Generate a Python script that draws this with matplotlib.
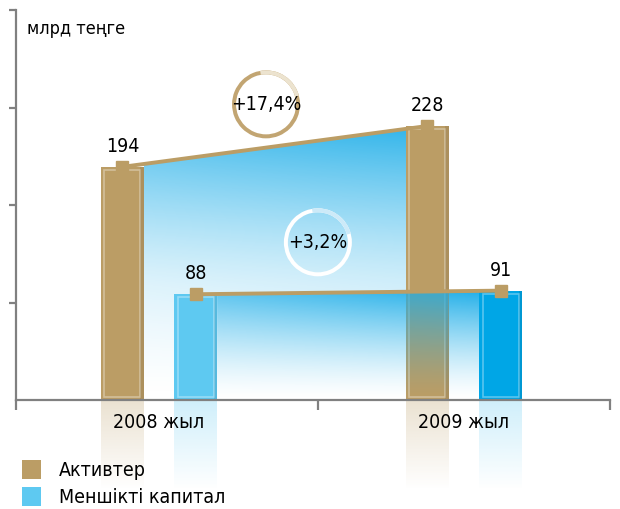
import numpy as np
import matplotlib
matplotlib.use("Agg")
import matplotlib.pyplot as plt
import matplotlib.patches as patches
from matplotlib.transforms import IdentityTransform

years = ["2008 жыл", "2009 жыл"]
assets = [194, 228]
equity = [88, 91]
growth = ["+17,4%", "+3,2%"]
series = ["Активтер", "Меншікті капитал"]
unit = "млрд теңге"

plt.rcParams["font.family"] = ["DejaVu Sans"]
plt.rcParams["font.stretch"] = "condensed"

tan = "#bb9d65"
sky = "#5ec9f1"
deep = "#00a6e6"
gray = "#808080"
blue = np.array([0.11, 0.68, 0.91])

fig = plt.figure(figsize=(6.2, 5.09), dpi=100)
ax = fig.add_axes([16 / 620, 109 / 509, 594 / 620, 390 / 509])

x = np.arange(len(years))
off, w = 0.12, 0.14
xa = x - off
xc = x + off
ytop = max(assets) * 390 / 274
xlim = (-0.469, 1.479)


def line_at(xs, ys, xv):
    return ys[0] + (ys[1] - ys[0]) * (xv - xs[0]) / (xs[1] - xs[0])


L = xa[0] + w / 2
R = xc[1]
ymax = max(assets)


def blue_img(k=1.0, n=400):
    gx = np.linspace(L, R, n)
    gy = np.linspace(0, ymax, n)
    X, Y = np.meshgrid(gx, gy)
    yA = line_at(xa, assets, X)
    yC = line_at(xc, equity, X)
    hx = (X - L) / (R - L)
    up = np.clip((Y - yC) / (yA - yC), 0, 1)
    lo = np.clip(Y / yC, 0, 1)
    a_up = (0.22 + 0.78 * up ** 1.3) * (0.6 + 0.4 * hx)
    # below the equity line: a fresh panel right of the first equity bar,
    # a plain fade to white left of it
    a_lo = np.where(X < xc[0] + w / 2, 0.22 * (0.6 + 0.4 * hx) * lo ** 1.4,
                    lo ** 1.4 * (0.62 + 0.38 * hx))
    a = np.where(Y > yC, a_up, a_lo)
    img = np.zeros((n, n, 4))
    img[..., :3] = blue
    img[..., 3] = np.clip(a * k, 0, 1)
    return img


# blue panels between the two series
verts = [(L, 0), (L, line_at(xa, assets, L)), (xa[1], assets[1]),
         (xa[1], line_at(xc, equity, xa[1])), (xc[1], equity[1]), (xc[1], 0)]
area = patches.Polygon(verts, closed=True, fc="none", ec="none")
ax.add_patch(area)
im = ax.imshow(blue_img(), extent=(L, R, 0, ymax), origin="lower",
               aspect="auto", zorder=1)
im.set_clip_path(area)

# bars
ax.bar(xa, assets, w, color=tan, zorder=2)
ax.bar(xc, equity, w, color=[sky, deep], zorder=2)
dx, dy = 0.011, 2.5
for xs, vs in [(xa, assets), (xc, equity)]:
    for xi, v in zip(xs, vs):
        ax.add_patch(patches.Rectangle((xi - w / 2 + dx, dy), w - 2 * dx, v - 2 * dy,
                                       fc="none", ec="white", lw=1.2, alpha=0.35, zorder=2.5))
        ax.add_patch(patches.Rectangle((xi + w / 2 - dx, 0), dx, v,
                                       fc="black", ec="none", alpha=0.08, zorder=2.5))

# blue seen through the 2009 assets bar
x0, x1 = xa[1] - w / 2, xa[1] + w / 2
cover = patches.Polygon([(x0, 0), (x0, line_at(xc, equity, x0)),
                         (x1, line_at(xc, equity, x1)), (x1, 0)], closed=True,
                        fc="none", ec="none")
ax.add_patch(cover)
im2 = ax.imshow(blue_img(0.85), extent=(L, R, 0, ymax), origin="lower",
                aspect="auto", zorder=3)
im2.set_clip_path(cover)

# reflections below the axis
for xs, cols in [(xa, [tan, tan]), (xc, [sky, sky])]:
    for xi, c in zip(xs, cols):
        g = np.zeros((100, 1, 4))
        g[..., :3] = matplotlib.colors.to_rgb(c)
        g[:, 0, 3] = np.linspace(0.3, 0, 100)
        ax.imshow(g, extent=(xi - w / 2, xi + w / 2, 0, -75), origin="lower",
                  aspect="auto", zorder=0, clip_on=False)

# lines with markers
ax.plot(xa, assets, color=tan, lw=2.8, zorder=4)
ax.plot(xc, equity, color=tan, lw=2.8, zorder=4)
ax.plot(xa, assets, "s", color=tan, ms=8, zorder=5)
ax.plot(xc, equity, "s", color=tan, ms=8, zorder=5)

for xs, vs in [(xa, assets), (xc, equity)]:
    for xi, v in zip(xs, vs):
        ax.annotate(str(v), (xi, v), xytext=(0, 8), textcoords="offset points",
                    ha="center", va="bottom", fontsize=14, zorder=6)

ax.set_xlim(*xlim)
ax.set_ylim(0, ytop)

# growth rings
ring_x = [0.351, 0.521]
ring_y = [line_at(xa, assets, ring_x[0]) + 36, line_at(xc, equity, ring_x[1]) + 42]
ring_col = [("#c2a572", "#ece3cf"), ("#ffffff", "#cdeaf8")]
for cx, cy, txt, (c1, c2) in zip(ring_x, ring_y, growth, ring_col):
    px, py = ax.transData.transform((cx, cy))
    ax.add_artist(patches.Wedge((px, py), 34, 0, 360, width=4, fc=c1, ec="none",
                                transform=IdentityTransform(), zorder=6))
    ax.add_artist(patches.Wedge((px, py), 34, 15, 100, width=4, fc=c2, ec="none",
                                transform=IdentityTransform(), zorder=6))
    ax.text(cx, cy, txt, ha="center", va="center", fontsize=14, zorder=7)

# axes styling
for s in ["top", "right"]:
    ax.spines[s].set_visible(False)
for s in ["left", "bottom"]:
    ax.spines[s].set_color(gray)
    ax.spines[s].set_linewidth(1.6)
ax.set_xticks(x)
ax.set_xticklabels(years, fontsize=14)
ax.tick_params(axis="x", length=0, pad=9)
ax.set_xticks([xlim[0], 0.52, xlim[1]], minor=True)
ax.tick_params(axis="x", which="minor", length=7, width=1.6, color=gray, direction="out")
ax.set_yticks(ytop * np.array([0.25, 0.5, 0.75, 1.0]))
ax.set_yticklabels([])
ax.tick_params(axis="y", length=5, width=1.6, color=gray, direction="out")
ax.set_facecolor("none")

ax.text(0.0185, 0.951, unit, transform=ax.transAxes, fontsize=13, va="center")

handles = [patches.Patch(fc=tan), patches.Patch(fc=sky)]
fig.legend(handles, series, loc="lower left", bbox_to_anchor=(22 / 620, 2 / 509),
           frameon=False, fontsize=14, handlelength=1.0, handleheight=1.1,
           handletextpad=0.9, labelspacing=0.35, borderpad=0, borderaxespad=0)

fig.savefig("out.png", dpi=100)
